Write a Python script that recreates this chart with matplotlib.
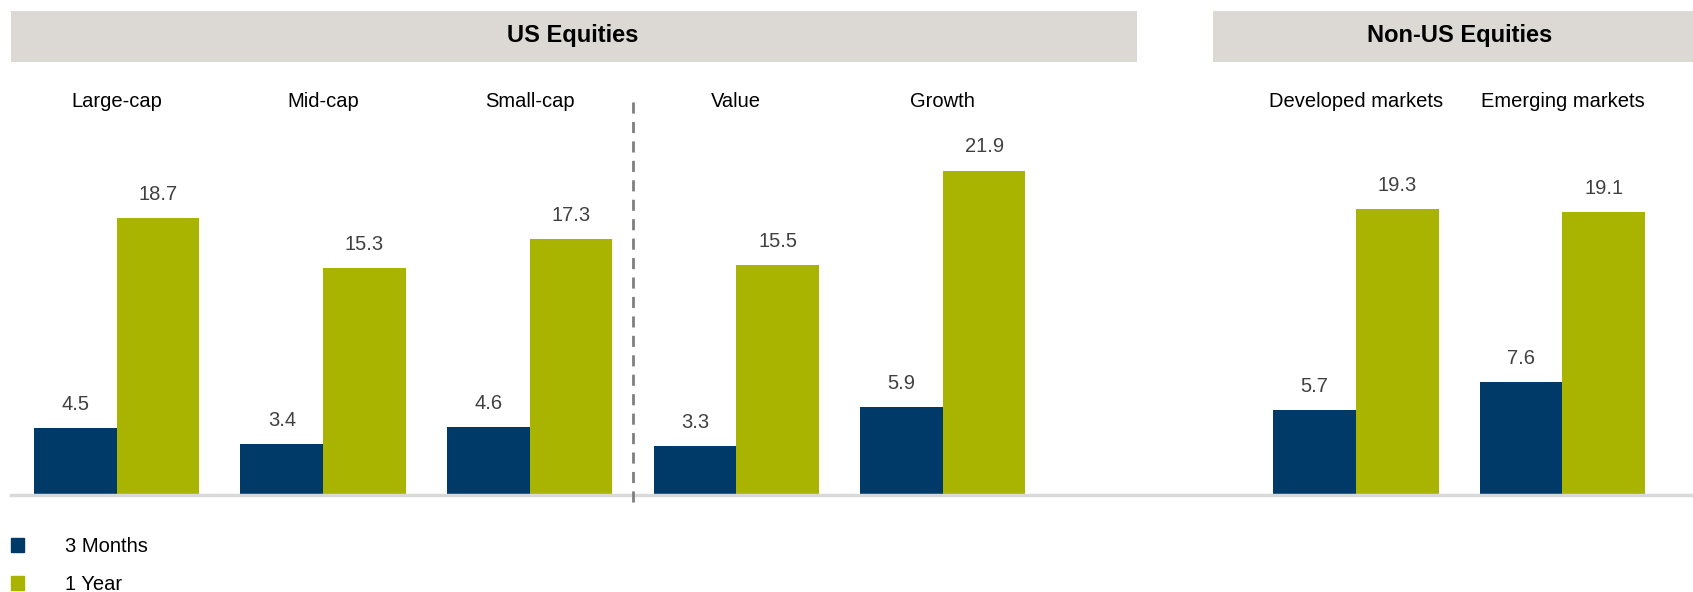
import numpy as np
import matplotlib.pyplot as plt
from matplotlib.patches import Rectangle, Patch

plt.rcParams['font.family'] = ['Liberation Sans', 'DejaVu Sans']

categories = ['Large-cap', 'Mid-cap', 'Small-cap', 'Value', 'Growth',
              'Developed markets', 'Emerging markets']
months3 = [4.5, 3.4, 4.6, 3.3, 5.9, 5.7, 7.6]
year1 = [18.7, 15.3, 17.3, 15.5, 21.9, 19.3, 19.1]
series_names = ['3 Months', '1 Year']
headers = ['US Equities', 'Non-US Equities']

navy = '#003A68'
olive = '#A8B400'
box_grey = '#DCD9D4'
label_grey = '#404040'

# slot 5 is left empty to split US and non-US groups
pos = np.array([0, 1, 2, 3, 4, 6, 7])
w = 0.4

fig = plt.figure(figsize=(16.93, 5.92), dpi=100)
ax = fig.add_axes([10 / 1568, 90 / 548, 1 - 10 / 1568, 458 / 548])
ax.set_xlim(-0.512, 7.632)
ax.set_ylim(0, 33.43)
ax.axis('off')

ax.bar(pos - w / 2, months3, w, color=navy, label=series_names[0])
ax.bar(pos + w / 2, year1, w, color=olive, label=series_names[1])

for x, v in zip(pos - w / 2, months3):
    ax.text(x, v + 1.6, f'{v:.1f}', ha='center', va='center', fontsize=14.5, color=label_grey)
for x, v in zip(pos + w / 2, year1):
    ax.text(x, v + 1.6, f'{v:.1f}', ha='center', va='center', fontsize=14.5, color=label_grey)

for x, c in zip(pos, categories):
    ax.text(x, 26.6, c, ha='center', va='center', fontsize=14.5, color='black')

# baseline
ax.axhline(0, color='#D9D9D9', lw=2.5, clip_on=False)

# dashed separator between size and style groups
ax.plot([2.5, 2.5], [-0.5, 26.9], ls=(0, (4, 3)), color='#7F7F7F', lw=2, clip_on=False)

# header boxes
ax.add_patch(Rectangle((-0.512, 29.27), 4.94 + 0.512, 3.43, color=box_grey, clip_on=False, lw=0))
ax.add_patch(Rectangle((5.31, 29.27), 7.632 - 5.31, 3.43, color=box_grey, clip_on=False, lw=0))
ax.text(2.21, 31.0, headers[0], ha='center', va='center', fontsize=17, fontweight='bold')
ax.text(6.5, 31.0, headers[1], ha='center', va='center', fontsize=17, fontweight='bold')

handles = [Patch(color=navy), Patch(color=olive)]
fig.legend(handles, series_names, loc='upper left', bbox_to_anchor=(10 / 1568, 51 / 548),
           frameon=False, fontsize=14.5, handlelength=0.65, handleheight=0.65,
           handletextpad=2.05, labelspacing=0.95, borderpad=0, borderaxespad=0)

fig.savefig('out.png', dpi=100)
